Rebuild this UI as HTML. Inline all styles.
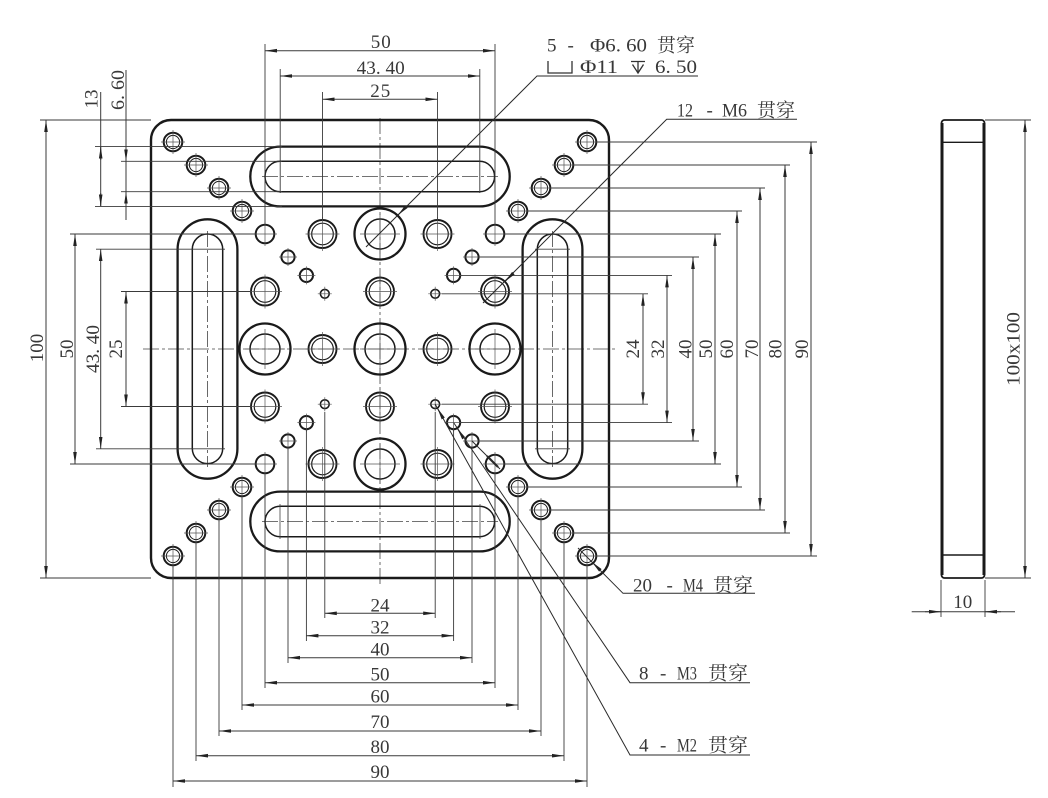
<!DOCTYPE html>
<html><head><meta charset="utf-8"><style>
html,body{margin:0;padding:0;background:#fff;}
svg{display:block;}
text{font-family:"Liberation Serif","Noto Serif CJK SC",serif;font-size:19px;fill:#383838;}
</style></head><body>
<svg width="1048" height="798" viewBox="0 0 1048 798" xmlns="http://www.w3.org/2000/svg">
<defs>
<marker id="ar" viewBox="0 0 12 4" refX="12" refY="2" markerWidth="12" markerHeight="4" markerUnits="userSpaceOnUse" orient="auto-start-reverse"><path d="M0,0.2 L12,2 L0,3.8z" fill="#222"/></marker>
</defs>

<!-- center lines -->
<g stroke="#444" stroke-width="0.8" fill="none" stroke-dasharray="16 3 3 3">
<line x1="143" y1="349" x2="616" y2="349"/>
<line x1="380" y1="118" x2="380" y2="586"/>
<line x1="262" y1="176.5" x2="498" y2="176.5"/>
<line x1="262" y1="521.5" x2="498" y2="521.5"/>
<line x1="207.5" y1="231" x2="207.5" y2="467"/>
<line x1="552.5" y1="231" x2="552.5" y2="467"/>
</g>

<!-- plate -->
<rect x="151" y="120" width="458" height="458" rx="20" fill="none" stroke="#1a1a1a" stroke-width="2.4"/>

<!-- slots -->
<g fill="none" stroke="#1a1a1a">
<rect x="250.3" y="146.6" width="259.4" height="59.8" rx="29.9" stroke-width="2.3"/>
<rect x="265" y="161.3" width="229.6" height="30.4" rx="15.2" stroke-width="1.5"/>
<rect x="250.3" y="491.6" width="259.4" height="59.8" rx="29.9" stroke-width="2.3"/>
<rect x="265" y="506.3" width="229.6" height="30.4" rx="15.2" stroke-width="1.5"/>
<rect x="177.6" y="219.3" width="59.8" height="259.4" rx="29.9" stroke-width="2.3"/>
<rect x="192.3" y="234" width="30.4" height="229.6" rx="15.2" stroke-width="1.5"/>
<rect x="522.6" y="219.3" width="59.8" height="259.4" rx="29.9" stroke-width="2.3"/>
<rect x="537.3" y="234" width="30.4" height="229.6" rx="15.2" stroke-width="1.5"/>
</g>
<g stroke="#444" stroke-width="0.8">
<line x1="280" y1="504" x2="280" y2="539"/><line x1="480" y1="504" x2="480" y2="539"/>
<line x1="535" y1="249.2" x2="570" y2="249.2"/><line x1="535" y1="448.8" x2="570" y2="448.8"/>
</g>

<!-- counterbore holes -->
<g fill="none" stroke="#1a1a1a">
<g stroke-width="2.3">
<circle cx="380" cy="349" r="25.5"/><circle cx="380" cy="234" r="25.5"/><circle cx="380" cy="464" r="25.5"/><circle cx="265" cy="349" r="25.5"/><circle cx="495" cy="349" r="25.5"/>
</g>
<g stroke-width="1.5">
<circle cx="380" cy="349" r="15"/><circle cx="380" cy="234" r="15"/><circle cx="380" cy="464" r="15"/><circle cx="265" cy="349" r="15"/><circle cx="495" cy="349" r="15"/>
</g>
<!-- M6 -->
<g stroke-width="1.9">
<circle cx="322.5" cy="234" r="14"/><circle cx="437.5" cy="234" r="14"/><circle cx="322.5" cy="464" r="14"/><circle cx="437.5" cy="464" r="14"/>
<circle cx="265" cy="291.5" r="14"/><circle cx="495" cy="291.5" r="14"/><circle cx="265" cy="406.5" r="14"/><circle cx="495" cy="406.5" r="14"/>
<circle cx="322.5" cy="349" r="14"/><circle cx="437.5" cy="349" r="14"/><circle cx="380" cy="291.5" r="14"/><circle cx="380" cy="406.5" r="14"/>
</g>
<g stroke-width="1.2">
<circle cx="322.5" cy="234" r="10.8"/><circle cx="437.5" cy="234" r="10.8"/><circle cx="322.5" cy="464" r="10.8"/><circle cx="437.5" cy="464" r="10.8"/>
<circle cx="265" cy="291.5" r="10.8"/><circle cx="495" cy="291.5" r="10.8"/><circle cx="265" cy="406.5" r="10.8"/><circle cx="495" cy="406.5" r="10.8"/>
<circle cx="322.5" cy="349" r="10.8"/><circle cx="437.5" cy="349" r="10.8"/><circle cx="380" cy="291.5" r="10.8"/><circle cx="380" cy="406.5" r="10.8"/>
</g>
<!-- M4 -->
<g stroke-width="2">
<circle cx="265" cy="234" r="9.3"/><circle cx="242" cy="211" r="9.3"/><circle cx="219" cy="188" r="9.3"/><circle cx="196" cy="165" r="9.3"/><circle cx="173" cy="142" r="9.3"/>
<circle cx="495" cy="234" r="9.3"/><circle cx="518" cy="211" r="9.3"/><circle cx="541" cy="188" r="9.3"/><circle cx="564" cy="165" r="9.3"/><circle cx="587" cy="142" r="9.3"/>
<circle cx="265" cy="464" r="9.3"/><circle cx="242" cy="487" r="9.3"/><circle cx="219" cy="510" r="9.3"/><circle cx="196" cy="533" r="9.3"/><circle cx="173" cy="556" r="9.3"/>
<circle cx="495" cy="464" r="9.3"/><circle cx="518" cy="487" r="9.3"/><circle cx="541" cy="510" r="9.3"/><circle cx="564" cy="533" r="9.3"/><circle cx="587" cy="556" r="9.3"/>
</g>
<g stroke-width="1">
<circle cx="242" cy="211" r="6.6"/><circle cx="219" cy="188" r="6.6"/><circle cx="196" cy="165" r="6.6"/><circle cx="173" cy="142" r="6.6"/>
<circle cx="518" cy="211" r="6.6"/><circle cx="541" cy="188" r="6.6"/><circle cx="564" cy="165" r="6.6"/><circle cx="587" cy="142" r="6.6"/>
<circle cx="242" cy="487" r="6.6"/><circle cx="219" cy="510" r="6.6"/><circle cx="196" cy="533" r="6.6"/><circle cx="173" cy="556" r="6.6"/>
<circle cx="518" cy="487" r="6.6"/><circle cx="541" cy="510" r="6.6"/><circle cx="564" cy="533" r="6.6"/><circle cx="587" cy="556" r="6.6"/>
</g>
<!-- M3 -->
<g stroke-width="2">
<circle cx="306.4" cy="275.4" r="6.6"/><circle cx="288" cy="257" r="6.6"/><circle cx="453.6" cy="275.4" r="6.6"/><circle cx="472" cy="257" r="6.6"/>
<circle cx="306.4" cy="422.6" r="6.6"/><circle cx="288" cy="441" r="6.6"/><circle cx="453.6" cy="422.6" r="6.6"/><circle cx="472" cy="441" r="6.6"/>
</g>
<!-- M2 -->
<g stroke-width="1.6">
<circle cx="324.8" cy="293.8" r="4.4"/><circle cx="435.2" cy="293.8" r="4.4"/><circle cx="324.8" cy="404.2" r="4.4"/><circle cx="435.2" cy="404.2" r="4.4"/>
</g>
</g>

<!-- hole center crosses -->
<path fill="none" stroke="#555" stroke-width="0.7" d="
M253 234h24M265 222v24M230 211h24M242 199v24M207 188h24M219 176v24M184 165h24M196 153v24M161 142h24M173 130v24
M483 234h24M495 222v24M506 211h24M518 199v24M529 188h24M541 176v24M552 165h24M564 153v24M575 142h24M587 130v24
M253 464h24M265 452v24M230 487h24M242 475v24M207 510h24M219 498v24M184 533h24M196 521v24M161 556h24M173 544v24
M483 464h24M495 452v24M506 487h24M518 475v24M529 510h24M541 498v24M552 533h24M564 521v24M575 556h24M587 544v24
M297.4 275.4h18M306.4 266.4v18M279 257h18M288 248v18M444.6 275.4h18M453.6 266.4v18M463 257h18M472 248v18
M297.4 422.6h18M306.4 413.6v18M279 441h18M288 432v18M444.6 422.6h18M453.6 413.6v18M463 441h18M472 432v18
M317.8 293.8h14M324.8 286.8v14M428.2 293.8h14M435.2 286.8v14M317.8 404.2h14M324.8 397.2v14M428.2 404.2h14M435.2 397.2v14
M305.5 234h34M322.5 217v34M420.5 234h34M437.5 217v34M305.5 464h34M322.5 447v34M420.5 464h34M437.5 447v34
M248 291.5h34M265 274.5v34M478 291.5h34M495 274.5v34M248 406.5h34M265 389.5v34M478 406.5h34M495 389.5v34
M305.5 349h34M322.5 332v34M420.5 349h34M437.5 332v34M363 291.5h34M380 274.5v34M363 406.5h34M380 389.5v34
M360 349h40M380 329v40M360 234h40M380 214v40M360 464h40M380 444v40M245 349h40M265 329v40M475 349h40M495 329v40"/>

<!-- extension lines -->
<g stroke="#3a3a3a" stroke-width="0.9" fill="none">
<!-- right -->
<line x1="442" y1="293.8" x2="648" y2="293.8"/><line x1="442" y1="404.2" x2="648" y2="404.2"/>
<line x1="461" y1="275.4" x2="672" y2="275.4"/><line x1="461" y1="422.6" x2="672" y2="422.6"/>
<line x1="479" y1="257" x2="699" y2="257"/><line x1="479" y1="441" x2="699" y2="441"/>
<line x1="505" y1="234" x2="721" y2="234"/><line x1="505" y1="464" x2="721" y2="464"/>
<line x1="528" y1="211" x2="742" y2="211"/><line x1="528" y1="487" x2="742" y2="487"/>
<line x1="551" y1="188" x2="765" y2="188"/><line x1="551" y1="510" x2="765" y2="510"/>
<line x1="574" y1="165" x2="790" y2="165"/><line x1="574" y1="533" x2="790" y2="533"/>
<line x1="597" y1="142" x2="817" y2="142"/><line x1="597" y1="556" x2="817" y2="556"/>
<!-- bottom -->
<line x1="324.8" y1="412" x2="324.8" y2="618"/><line x1="435.2" y1="412" x2="435.2" y2="618"/>
<line x1="306.4" y1="430" x2="306.4" y2="641"/><line x1="453.6" y1="430" x2="453.6" y2="641"/>
<line x1="288" y1="448" x2="288" y2="663"/><line x1="472" y1="448" x2="472" y2="663"/>
<line x1="265" y1="474" x2="265" y2="688"/><line x1="495" y1="474" x2="495" y2="688"/>
<line x1="242" y1="497" x2="242" y2="710"/><line x1="518" y1="497" x2="518" y2="710"/>
<line x1="219" y1="520" x2="219" y2="736"/><line x1="541" y1="520" x2="541" y2="736"/>
<line x1="196" y1="543" x2="196" y2="761"/><line x1="564" y1="543" x2="564" y2="761"/>
<line x1="173" y1="566" x2="173" y2="787"/><line x1="587" y1="566" x2="587" y2="787"/>
<!-- top -->
<line x1="265" y1="44" x2="265" y2="224"/><line x1="495" y1="44" x2="495" y2="224"/>
<line x1="280.2" y1="69" x2="280.2" y2="193"/><line x1="479.8" y1="69" x2="479.8" y2="193"/>
<line x1="322.5" y1="92" x2="322.5" y2="220"/><line x1="437.5" y1="92" x2="437.5" y2="220"/>
<!-- left -->
<line x1="70" y1="234" x2="255" y2="234"/><line x1="70" y1="464" x2="255" y2="464"/>
<line x1="96" y1="249.2" x2="225" y2="249.2"/><line x1="96" y1="448.8" x2="225" y2="448.8"/>
<line x1="121" y1="291.5" x2="251" y2="291.5"/><line x1="121" y1="406.5" x2="251" y2="406.5"/>
<line x1="40" y1="120" x2="151" y2="120"/><line x1="40" y1="578" x2="151" y2="578"/>
<line x1="95" y1="146.6" x2="282" y2="146.6"/><line x1="95" y1="206.4" x2="282" y2="206.4"/>
<line x1="121" y1="161.3" x2="282" y2="161.3"/><line x1="121" y1="191.7" x2="282" y2="191.7"/>
<!-- side view -->
<line x1="985" y1="120" x2="1031" y2="120"/><line x1="985" y1="578" x2="1031" y2="578"/>
<line x1="941" y1="580" x2="941" y2="617"/><line x1="985" y1="580" x2="985" y2="617"/>
</g>

<!-- dimension lines -->
<g stroke="#3a3a3a" stroke-width="1" fill="none" marker-start="url(#ar)" marker-end="url(#ar)">
<line x1="643" y1="293.8" x2="643" y2="404.2"/>
<line x1="667" y1="275.4" x2="667" y2="422.6"/>
<line x1="693" y1="257" x2="693" y2="441"/>
<line x1="715" y1="234" x2="715" y2="464"/>
<line x1="737" y1="211" x2="737" y2="487"/>
<line x1="760" y1="188" x2="760" y2="510"/>
<line x1="785" y1="165" x2="785" y2="533"/>
<line x1="811" y1="142" x2="811" y2="556"/>
<line x1="324.8" y1="613.3" x2="435.2" y2="613.3"/>
<line x1="306.4" y1="635.7" x2="453.6" y2="635.7"/>
<line x1="288" y1="657.7" x2="472" y2="657.7"/>
<line x1="265" y1="682.7" x2="495" y2="682.7"/>
<line x1="242" y1="705" x2="518" y2="705"/>
<line x1="219" y1="731" x2="541" y2="731"/>
<line x1="196" y1="755.7" x2="564" y2="755.7"/>
<line x1="173" y1="781" x2="587" y2="781"/>
<line x1="265" y1="50.7" x2="495" y2="50.7"/>
<line x1="280.2" y1="76" x2="479.8" y2="76"/>
<line x1="322.5" y1="99.3" x2="437.5" y2="99.3"/>
<line x1="46" y1="120" x2="46" y2="578"/>
<line x1="75" y1="234" x2="75" y2="464"/>
<line x1="100.7" y1="249.2" x2="100.7" y2="448.8"/>
<line x1="126" y1="291.5" x2="126" y2="406.5"/>
<line x1="1025" y1="120" x2="1025" y2="578"/>
</g>
<g stroke="#3a3a3a" stroke-width="1" fill="none">
<line x1="100.7" y1="92" x2="100.7" y2="206.4"/>
<line x1="100.7" y1="160" x2="100.7" y2="146.6" marker-end="url(#ar)"/>
<line x1="100.7" y1="193" x2="100.7" y2="206.4" marker-end="url(#ar)"/>
<line x1="126" y1="70" x2="126" y2="220"/>
<line x1="126" y1="145" x2="126" y2="161.3" marker-end="url(#ar)"/>
<line x1="126" y1="208" x2="126" y2="191.7" marker-end="url(#ar)"/>
<line x1="911.7" y1="611.7" x2="1015" y2="611.7"/>
<line x1="925" y1="611.7" x2="941" y2="611.7" marker-end="url(#ar)"/>
<line x1="1001" y1="611.7" x2="985" y2="611.7" marker-end="url(#ar)"/>
</g>

<!-- leaders -->
<g stroke="#2a2a2a" stroke-width="1" fill="none">
<polyline points="366,247 537,76 698,76"/>
<polyline points="483,303 666.7,119.3 797,119.3"/>
<polyline points="578,548 623,593.3 755,593.3"/>
<polyline points="453.6,422.6 630,682.7 750,682.7"/>
<polyline points="435.2,404.2 630,755 750,755"/>
<line x1="472" y1="441" x2="500" y2="469"/>
<line x1="406" y1="207" x2="398" y2="215" marker-end="url(#ar)"/>
<line x1="513" y1="273.5" x2="505" y2="281.5" marker-end="url(#ar)"/>
<line x1="600" y1="570" x2="592" y2="562" marker-end="url(#ar)"/>
<line x1="461.6" y1="435" x2="457.2" y2="428.3" marker-end="url(#ar)"/>
<line x1="441" y1="414.5" x2="437.4" y2="408.1" marker-end="url(#ar)"/>
<line x1="498" y1="467" x2="487" y2="456" stroke-width="2.2"/>
</g>

<!-- side view -->
<g fill="none" stroke="#1a1a1a">
<rect x="941.5" y="120" width="43" height="458" rx="3" stroke-width="1.8"/>
<line x1="942" y1="123" x2="942" y2="575" stroke-width="3"/>
<line x1="984" y1="123" x2="984" y2="575" stroke-width="3"/>
<line x1="941" y1="142.3" x2="985" y2="142.3" stroke-width="1.4"/>
<line x1="941" y1="555" x2="985" y2="555" stroke-width="1.4"/>
</g>

<!-- symbols -->
<g stroke="#333" stroke-width="1.3" fill="none">
<path d="M548 61V73H572V61"/>
<path d="M631 61.5H645M638 61.5V73M632.5 64.5L638 73L643.5 64.5"/>
</g>

<!-- texts: top dims -->
<text x="380.7" y="48" text-anchor="middle" textLength="20">50</text>
<text x="380.7" y="74" text-anchor="middle" textLength="48" lengthAdjust="spacingAndGlyphs">43. 40</text>
<text x="380.2" y="97" text-anchor="middle" textLength="20">25</text>
<!-- bottom dims -->
<text x="380" y="611.3" text-anchor="middle">24</text>
<text x="380" y="633.6" text-anchor="middle">32</text>
<text x="380" y="655.3" text-anchor="middle">40</text>
<text x="380" y="680.3" text-anchor="middle">50</text>
<text x="380" y="702.3" text-anchor="middle">60</text>
<text x="380" y="728" text-anchor="middle">70</text>
<text x="380" y="753" text-anchor="middle">80</text>
<text x="380" y="778" text-anchor="middle">90</text>
<!-- right dims rotated -->
<text transform="translate(632.5,349) rotate(-90)" y="6.3" text-anchor="middle">24</text>
<text transform="translate(657.5,349) rotate(-90)" y="6.3" text-anchor="middle">32</text>
<text transform="translate(685,349) rotate(-90)" y="6.3" text-anchor="middle">40</text>
<text transform="translate(705.5,349) rotate(-90)" y="6.3" text-anchor="middle">50</text>
<text transform="translate(726.7,349) rotate(-90)" y="6.3" text-anchor="middle">60</text>
<text transform="translate(751.7,349) rotate(-90)" y="6.3" text-anchor="middle">70</text>
<text transform="translate(775,349) rotate(-90)" y="6.3" text-anchor="middle">80</text>
<text transform="translate(801.7,349) rotate(-90)" y="6.3" text-anchor="middle">90</text>
<!-- left dims rotated -->
<text transform="translate(36.7,348) rotate(-90)" y="6.3" text-anchor="middle">100</text>
<text transform="translate(66.5,349) rotate(-90)" y="6.3" text-anchor="middle">50</text>
<text transform="translate(92.5,349) rotate(-90)" y="6.3" text-anchor="middle" textLength="48" lengthAdjust="spacingAndGlyphs">43. 40</text>
<text transform="translate(115.7,349) rotate(-90)" y="6.3" text-anchor="middle">25</text>
<text transform="translate(91.2,99) rotate(-90)" y="6.3" text-anchor="middle">13</text>
<text transform="translate(117.5,90) rotate(-90)" y="6.3" text-anchor="middle" textLength="40" lengthAdjust="spacingAndGlyphs">6. 60</text>
<!-- side view -->
<text transform="translate(1013,349) rotate(-90)" y="6.3" text-anchor="middle" textLength="74" lengthAdjust="spacingAndGlyphs">100x100</text>
<text x="962.7" y="608" text-anchor="middle">10</text>
<!-- leader labels -->
<text x="547" y="51.3">5</text>
<text x="567.5" y="51.3">-</text>
<text x="590" y="51.3" textLength="57" lengthAdjust="spacingAndGlyphs">Φ6. 60</text>
<text x="657" y="51.3" textLength="38" lengthAdjust="spacingAndGlyphs">贯穿</text>
<text x="580" y="73" textLength="38" lengthAdjust="spacingAndGlyphs">Φ11</text>
<text x="655" y="73" textLength="42" lengthAdjust="spacingAndGlyphs">6. 50</text>
<text x="677" y="116.3" textLength="16" lengthAdjust="spacingAndGlyphs">12</text>
<text x="706.5" y="116.3">-</text>
<text x="722" y="116.3" textLength="25" lengthAdjust="spacingAndGlyphs">M6</text>
<text x="757" y="116.3" textLength="38" lengthAdjust="spacingAndGlyphs">贯穿</text>
<text x="633" y="591.3" textLength="19" lengthAdjust="spacingAndGlyphs">20</text>
<text x="666.5" y="591.3">-</text>
<text x="683" y="591.3" textLength="20" lengthAdjust="spacingAndGlyphs">M4</text>
<text x="713" y="591.3" textLength="40" lengthAdjust="spacingAndGlyphs">贯穿</text>
<text x="639" y="679.3">8</text>
<text x="660" y="679.3">-</text>
<text x="677" y="679.3" textLength="20" lengthAdjust="spacingAndGlyphs">M3</text>
<text x="708" y="679.3" textLength="40" lengthAdjust="spacingAndGlyphs">贯穿</text>
<text x="639" y="751.3">4</text>
<text x="660" y="751.3">-</text>
<text x="677" y="751.3" textLength="20" lengthAdjust="spacingAndGlyphs">M2</text>
<text x="708" y="751.3" textLength="40" lengthAdjust="spacingAndGlyphs">贯穿</text>
</svg>
</body></html>
